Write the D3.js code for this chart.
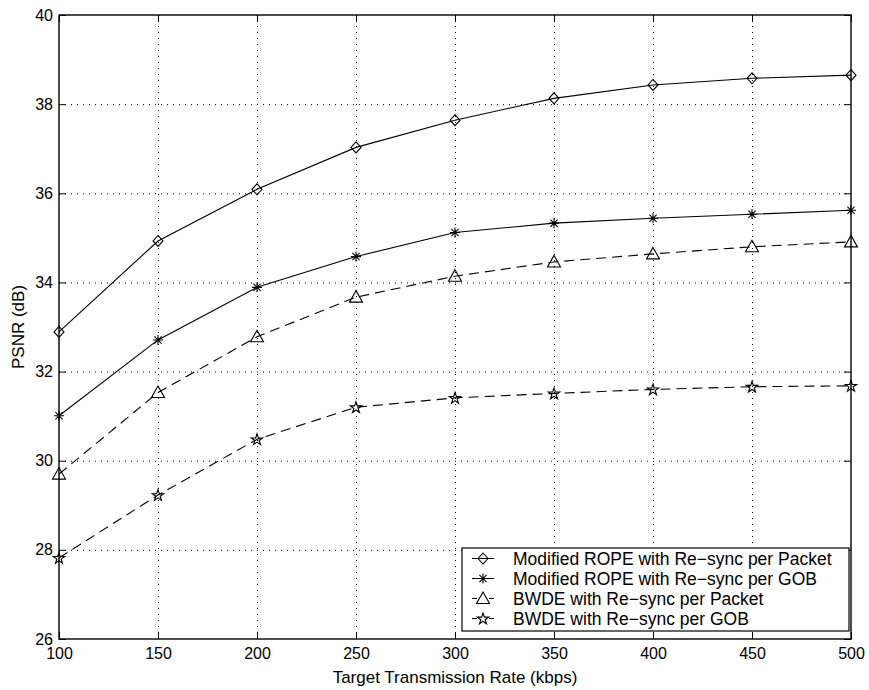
<!DOCTYPE html>
<html lang="en">
<head>
<meta charset="utf-8">
<title>PSNR vs Target Transmission Rate</title>
<script src="https://d3js.org/d3.v7.min.js"></script>
<style>
  body { margin: 0; background: #fff; }
  svg text { font-family: "Liberation Sans", Arial, Helvetica, sans-serif; fill: #000; }
  .axis path { display: none; }
  .axis line { stroke: #000; }
</style>
</head>
<body>
<script>
// data
var rates = [100, 150, 200, 250, 300, 350, 400, 450, 500];
var ropePacket = [32.89, 34.93, 36.09, 37.03, 37.64, 38.13, 38.43, 38.58, 38.65];
var ropeGob    = [31.01, 32.71, 33.89, 34.58, 35.12, 35.33, 35.44, 35.53, 35.62];
var bwdePacket = [29.70, 31.53, 32.78, 33.67, 34.14, 34.46, 34.64, 34.80, 34.91];
var bwdeGob    = [27.82, 29.23, 30.48, 31.20, 31.41, 31.51, 31.60, 31.66, 31.68];
var seriesNames = [
  "Modified ROPE with Re\u2212sync per Packet",
  "Modified ROPE with Re\u2212sync per GOB",
  "BWDE with Re\u2212sync per Packet",
  "BWDE with Re\u2212sync per GOB"
];
var xTicks = [100, 150, 200, 250, 300, 350, 400, 450, 500];
var yTicks = [26, 28, 30, 32, 34, 36, 38, 40];

var W = 869, H = 690;
var mLeft = 59, mRight = 851, mTop = 15, mBottom = 639;

var x = d3.scaleLinear().domain([100, 500]).range([mLeft, mRight]);
var y = d3.scaleLinear().domain([26, 40]).range([mBottom, mTop]);

var svg = d3.select("body").append("svg")
  .attr("width", W).attr("height", H);

// grid
var grid = svg.append("g").attr("stroke", "#000").attr("stroke-width", 1)
  .attr("stroke-dasharray", "1,5");
grid.selectAll(".gx").data(xTicks.slice(1, -1)).enter().append("line")
  .attr("x1", function(d) { return x(d) + 0.5; }).attr("x2", function(d) { return x(d) + 0.5; })
  .attr("y1", mBottom).attr("y2", mTop);
grid.selectAll(".gy").data(yTicks.slice(1, -1)).enter().append("line")
  .attr("y1", function(d) { return y(d) + 0.5; }).attr("y2", function(d) { return y(d) + 0.5; })
  .attr("x1", mLeft).attr("x2", mRight);

// axes (ticks inward)
var tickFs = "16px", fs = "17px", legFs = "17.5px";
svg.append("g").attr("class", "axis")
  .attr("transform", "translate(0," + mBottom + ")")
  .call(d3.axisBottom(x).tickValues(xTicks).tickSize(-7).tickPadding(9));
svg.append("g").attr("class", "axis")
  .attr("transform", "translate(0," + mTop + ")")
  .call(d3.axisTop(x).tickValues(xTicks).tickSize(-7).tickFormat(""));
svg.append("g").attr("class", "axis")
  .attr("transform", "translate(" + mLeft + ",0)")
  .call(d3.axisLeft(y).tickValues(yTicks).tickSize(-7).tickPadding(6));
svg.append("g").attr("class", "axis")
  .attr("transform", "translate(" + mRight + ",0)")
  .call(d3.axisRight(y).tickValues(yTicks).tickSize(-7).tickFormat(""));
svg.selectAll(".axis text").attr("font-size", tickFs).attr("font-family", null);

// box
svg.append("rect")
  .attr("x", mLeft).attr("y", mTop)
  .attr("width", mRight - mLeft).attr("height", mBottom - mTop)
  .attr("fill", "none").attr("stroke", "#000").attr("stroke-width", 1.4);

// axis labels
svg.append("text")
  .attr("x", (mLeft + mRight) / 2).attr("y", 683)
  .attr("text-anchor", "middle").attr("font-size", fs)
  .text("Target Transmission Rate (kbps)");
svg.append("text")
  .attr("transform", "translate(24," + (mTop + mBottom) / 2 + ") rotate(-90)")
  .attr("text-anchor", "middle").attr("font-size", fs)
  .text("PSNR (dB)");

// markers
function marker(g, kind, cx, cy) {
  if (kind === "diamond") {
    g.append("path")
      .attr("d", "M" + cx + "," + (cy - 5.5) + "L" + (cx + 5) + "," + cy +
                 "L" + cx + "," + (cy + 5.5) + "L" + (cx - 5) + "," + cy + "Z")
      .attr("fill", "none").attr("stroke", "#000").attr("stroke-width", 1.1);
  } else if (kind === "asterisk") {
    var r = 5, k = 3.6;
    g.append("path")
      .attr("d", "M" + (cx - r) + "," + cy + "h" + (2 * r) +
                 "M" + cx + "," + (cy - r) + "v" + (2 * r) +
                 "M" + (cx - k) + "," + (cy - k) + "l" + (2 * k) + "," + (2 * k) +
                 "M" + (cx - k) + "," + (cy + k) + "l" + (2 * k) + "," + (-2 * k))
      .attr("fill", "none").attr("stroke", "#000").attr("stroke-width", 1.1);
  } else if (kind === "triangle") {
    g.append("path")
      .attr("d", "M" + cx + "," + (cy - 6.5) + "L" + (cx + 6.5) + "," + (cy + 5) +
                 "L" + (cx - 6.5) + "," + (cy + 5) + "Z")
      .attr("fill", "none").attr("stroke", "#000").attr("stroke-width", 1.1);
  } else if (kind === "star") {
    g.append("path")
      .attr("transform", "translate(" + cx + "," + (cy + 0.5) + ")")
      .attr("d", d3.symbol().type(d3.symbolStar).size(40)())
      .attr("fill", "none").attr("stroke", "#000").attr("stroke-width", 1.1);
  }
}

var series = [
  { name: seriesNames[0], values: ropePacket, kind: "diamond", dash: null },
  { name: seriesNames[1], values: ropeGob, kind: "asterisk", dash: null },
  { name: seriesNames[2], values: bwdePacket, kind: "triangle", dash: "10,6" },
  { name: seriesNames[3], values: bwdeGob, kind: "star", dash: "10,6" }
];

var line = d3.line()
  .x(function(d, i) { return x(rates[i]); })
  .y(function(d) { return y(d); });

series.forEach(function(s) {
  var g = svg.append("g");
  g.append("path")
    .attr("d", line(s.values))
    .attr("fill", "none").attr("stroke", "#000").attr("stroke-width", 1.1)
    .attr("stroke-dasharray", s.dash);
  s.values.forEach(function(v, i) { marker(g, s.kind, x(rates[i]), y(v)); });
});

// legend
var lx = 462, ly = 548, lw = 387, lh = 83;
var lg = svg.append("g");
lg.append("rect")
  .attr("x", lx).attr("y", ly).attr("width", lw).attr("height", lh)
  .attr("fill", "#fff").attr("stroke", "#000").attr("stroke-width", 1.2);
series.forEach(function(s, i) {
  var cy = ly + 10.5 + i * 20;
  if (s.dash) {
    lg.append("line").attr("x1", 472).attr("x2", 477).attr("y1", cy).attr("y2", cy)
      .attr("stroke", "#000");
    lg.append("line").attr("x1", 489).attr("x2", 494).attr("y1", cy).attr("y2", cy)
      .attr("stroke", "#000");
  } else {
    lg.append("line").attr("x1", 472).attr("x2", 494).attr("y1", cy).attr("y2", cy)
      .attr("stroke", "#000");
  }
  marker(lg, s.kind, 483, cy);
  lg.append("text")
    .attr("x", 513).attr("y", cy).attr("dy", "0.36em")
    .attr("font-size", legFs)
    .text(s.name);
});
</script>
</body>
</html>
